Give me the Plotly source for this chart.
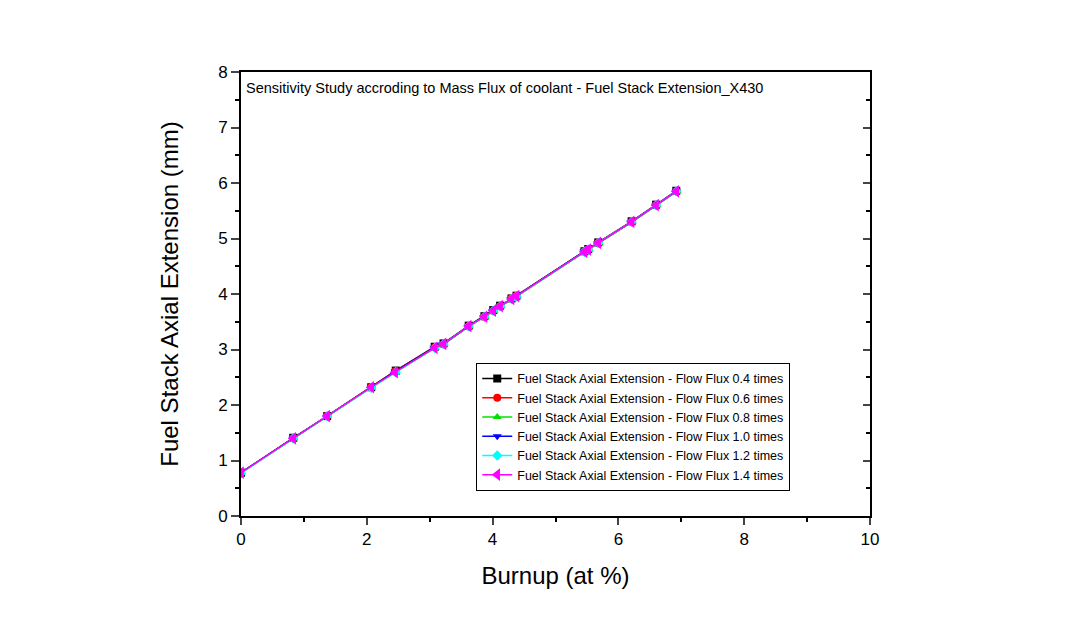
import plotly.graph_objects as go

# Burnup (at %) and fuel stack axial extension (mm) for each flow-flux case
burnup_04 = [0.0, 0.83, 1.37, 2.07, 2.46, 3.08, 3.22, 3.62, 3.87, 4.01, 4.12, 4.30, 4.38, 5.46, 5.52, 5.68, 6.21, 6.60, 6.92]
ext_04    = [0.78, 1.41, 1.80, 2.32, 2.62, 3.05, 3.11, 3.43, 3.60, 3.71, 3.79, 3.92, 3.97, 4.77, 4.81, 4.93, 5.31, 5.61, 5.86]
burnup_06 = [0.0, 0.83, 1.37, 2.07, 2.45, 3.08, 3.22, 3.62, 3.87, 4.01, 4.12, 4.30, 4.38, 5.46, 5.52, 5.68, 6.21, 6.60, 6.92]
ext_06    = [0.78, 1.40, 1.80, 2.32, 2.61, 3.04, 3.10, 3.42, 3.59, 3.70, 3.78, 3.92, 3.97, 4.77, 4.81, 4.92, 5.30, 5.60, 5.85]
burnup_08 = [0.0, 0.84, 1.37, 2.08, 2.46, 3.09, 3.23, 3.63, 3.88, 4.02, 4.13, 4.31, 4.39, 5.47, 5.53, 5.69, 6.22, 6.61, 6.93]
ext_08    = [0.78, 1.40, 1.80, 2.32, 2.60, 3.03, 3.10, 3.42, 3.59, 3.70, 3.78, 3.91, 3.96, 4.76, 4.80, 4.92, 5.30, 5.60, 5.85]
burnup_10 = [0.0, 0.83, 1.37, 2.07, 2.45, 3.07, 3.21, 3.61, 3.86, 4.00, 4.11, 4.29, 4.37, 5.45, 5.51, 5.67, 6.20, 6.59, 6.92]
ext_10    = [0.78, 1.40, 1.79, 2.31, 2.60, 3.03, 3.09, 3.41, 3.58, 3.69, 3.77, 3.91, 3.96, 4.76, 4.80, 4.91, 5.29, 5.59, 5.85]
burnup_12 = [0.0, 0.83, 1.37, 2.07, 2.46, 3.08, 3.22, 3.62, 3.87, 4.01, 4.12, 4.30, 4.38, 5.46, 5.52, 5.68, 6.21, 6.60, 6.92]
ext_12    = [0.77, 1.40, 1.80, 2.31, 2.59, 3.03, 3.10, 3.42, 3.59, 3.70, 3.78, 3.91, 3.96, 4.76, 4.80, 4.92, 5.30, 5.60, 5.85]
burnup_14 = [0.0, 0.83, 1.37, 2.07, 2.45, 3.08, 3.22, 3.62, 3.87, 4.01, 4.12, 4.30, 4.38, 5.46, 5.52, 5.68, 6.21, 6.60, 6.92]
ext_14    = [0.78, 1.40, 1.80, 2.32, 2.59, 3.03, 3.10, 3.42, 3.59, 3.70, 3.78, 3.91, 3.96, 4.76, 4.80, 4.92, 5.30, 5.60, 5.85]

series_names = [
    "Fuel Stack Axial Extension - Flow Flux 0.4 times",
    "Fuel Stack Axial Extension - Flow Flux 0.6 times",
    "Fuel Stack Axial Extension - Flow Flux 0.8 times",
    "Fuel Stack Axial Extension - Flow Flux 1.0 times",
    "Fuel Stack Axial Extension - Flow Flux 1.2 times",
    "Fuel Stack Axial Extension - Flow Flux 1.4 times",
]
xs = [burnup_04, burnup_06, burnup_08, burnup_10, burnup_12, burnup_14]
ys = [ext_04, ext_06, ext_08, ext_10, ext_12, ext_14]
colors = ["#000000", "#ff0000", "#00e000", "#0000ff", "#00ffff", "#ff00ff"]
symbols = ["square", "circle", "triangle-up", "triangle-down", "diamond", "triangle-left"]
sizes = [8, 8, 8, 8, 8, 11]

x_ticks = [0, 2, 4, 6, 8, 10]
y_ticks = [0, 1, 2, 3, 4, 5, 6, 7, 8]

FONT = "Liberation Sans, Arial, sans-serif"

fig = go.Figure()
for x, y, n, c, s, sz in zip(xs, ys, series_names, colors, symbols, sizes):
    fig.add_trace(go.Scatter(
        x=x, y=y, name=n, mode="lines+markers",
        line=dict(color=c, width=1.4),
        marker=dict(symbol=s, size=sz, color=c),
    ))

# invisible trace to carry the right-hand axis (inward ticks)
fig.add_trace(go.Scatter(x=[None], y=[None], yaxis="y2", showlegend=False, hoverinfo="skip"))

fig.update_layout(
    width=1087, height=628,
    paper_bgcolor="white", plot_bgcolor="white",
    margin=dict(l=241, r=217, t=72, b=112),
    font=dict(family=FONT, color="black"),
    xaxis=dict(
        range=[0, 10], tickvals=x_ticks, ticks="outside", ticklen=7, tickwidth=2,
        minor=dict(dtick=1, ticks="outside", ticklen=4, tickwidth=1.5, tickcolor="black", showgrid=False),
        showline=True, linewidth=2, linecolor="black", mirror=True,
        showgrid=False, zeroline=False, tickfont=dict(size=17),
        title=dict(text="Burnup (at %)", font=dict(size=24), standoff=19),
    ),
    yaxis=dict(
        range=[0, 8], tickvals=y_ticks, ticks="outside", ticklen=8, tickwidth=2,
        minor=dict(dtick=0.5, ticks="outside", ticklen=4, tickwidth=1.5, tickcolor="black", showgrid=False),
        showline=True, linewidth=2, linecolor="black", mirror=True,
        showgrid=False, zeroline=False, tickfont=dict(size=17),
        title=dict(text="Fuel Stack Axial Extension (mm)", font=dict(size=24), standoff=33),
    ),
    yaxis2=dict(
        range=[0, 8], overlaying="y", side="right", tickvals=y_ticks, ticks="inside",
        ticklen=7, tickwidth=2, showticklabels=False, showgrid=False, zeroline=False,
        minor=dict(dtick=0.5, ticks="inside", ticklen=4, tickwidth=1.5, tickcolor="black", showgrid=False),
        showline=False,
    ),
    legend=dict(
        x=0.374, y=0.345, xanchor="left", yanchor="top",
        bgcolor="white", bordercolor="black", borderwidth=1,
        font=dict(size=12.5, family=FONT), tracegroupgap=0,
    ),
    annotations=[dict(
        text="Sensitivity Study accroding to Mass Flux of coolant - Fuel Stack Extension_X430",
        xref="paper", yref="paper", x=0.004, y=0.986, xanchor="left", yanchor="top",
        showarrow=False, font=dict(size=14.5, family=FONT),
    )],
)

fig.write_html("out.html")
